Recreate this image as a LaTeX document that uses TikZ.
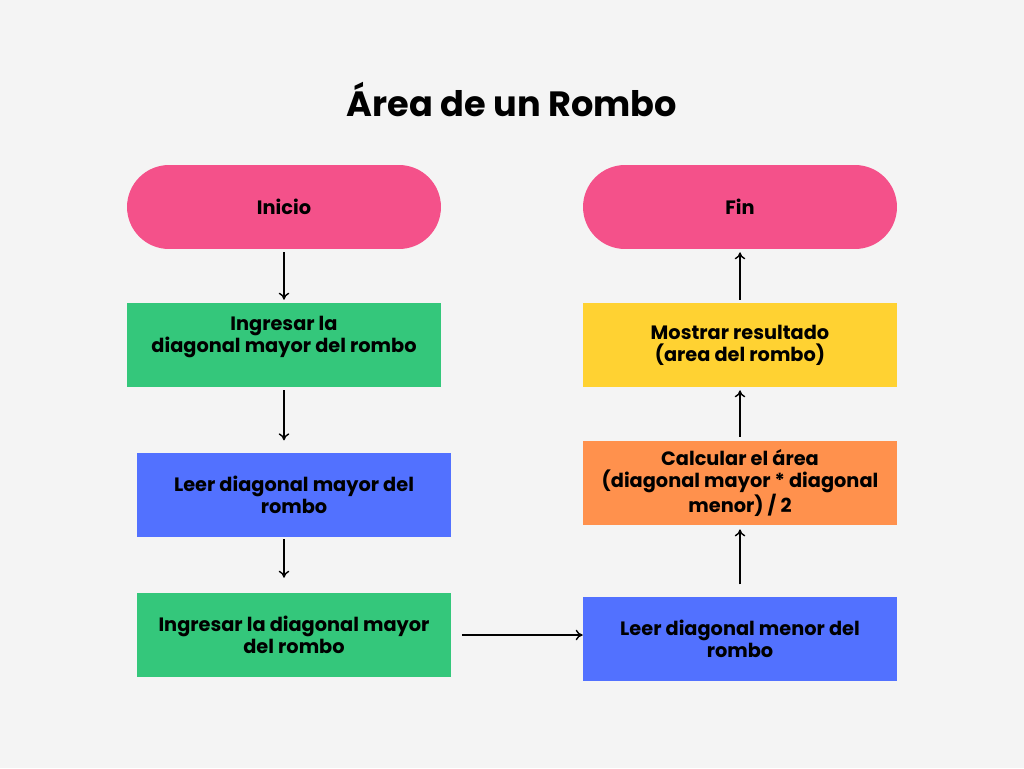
\documentclass[tikz,border=0pt]{standalone}
\usepackage{fontspec}
\setmainfont{Poppins}
\usetikzlibrary{positioning,arrows.meta}
\definecolor{fondo}{HTML}{F4F4F4}
\definecolor{rosa}{HTML}{F4518A}
\definecolor{verde}{HTML}{34C77B}
\definecolor{azul}{HTML}{5271FF}
\definecolor{naranja}{HTML}{FF914D}
\definecolor{amarillo}{HTML}{FFD232}
\tikzset{
  caja/.style={rectangle,minimum width=6.28cm,minimum height=1.68cm,align=center,
    inner sep=2pt,font=\fontsize{11}{12.5}\selectfont\bfseries},
  terminal/.style={caja,rounded corners=0.84cm,fill=rosa},
  flecha/.style={-{To[length=4pt,width=6pt]},line width=0.8pt}
}
\begin{document}
\begin{tikzpicture}[x=0.02cm,y=-0.02cm]
	  \fill[fondo] (0,0) rectangle (1024,768);
	  \node[font=\fontsize{20}{23}\selectfont\bfseries] (titulo) at (512,99) {Área de un Rombo};
	  \node[terminal] (inicio) at (284,207) {Inicio};
	  \node[terminal] (fin) at (740,207) {Fin};
	  \node[caja,fill=verde] (ingresar1) at (284,345) {Ingresar la\\diagonal mayor del rombo\\\mbox{}};
	  \node[caja,fill=azul] (leer1) at (294,495) {Leer diagonal mayor del\\rombo};
	  \node[caja,fill=verde] (ingresar2) at (294,635) {Ingresar la diagonal mayor\\del rombo};
	  \node[caja,fill=azul] (leer2) at (740,639) {Leer diagonal menor del\\rombo};
	  \node[caja,fill=naranja] (calcular) at (740,483) {Calcular el área\\(diagonal mayor * diagonal\\menor) / 2};
	  \node[caja,fill=amarillo] (mostrar) at (740,345) {Mostrar resultado\\(area del rombo)};
	  \draw[flecha,shorten <=1.7pt,shorten >=1.7pt] (inicio.south) -- (ingresar1.north);
	  \draw[flecha,shorten <=1.7pt,shorten >=7pt] (ingresar1.south) -- (ingresar1.south |- leer1.north);
	  \draw[flecha,shorten <=1pt,shorten >=8.5pt] (leer1.south -| ingresar1.south) -- (ingresar2.north -| ingresar1.south);
	  \draw[flecha,shorten <=6pt] (ingresar2.east) -- (leer2.west |- ingresar2.east);
	  \draw[flecha,shorten <=7pt,shorten >=2.3pt] (leer2.north) -- (calcular.south);
	  \draw[flecha,shorten <=2.3pt,shorten >=1.7pt] (calcular.north) -- (mostrar.south);
	  \draw[flecha,shorten <=1.7pt,shorten >=1.7pt] (mostrar.north) -- (fin.south);
\end{tikzpicture}
\end{document}
